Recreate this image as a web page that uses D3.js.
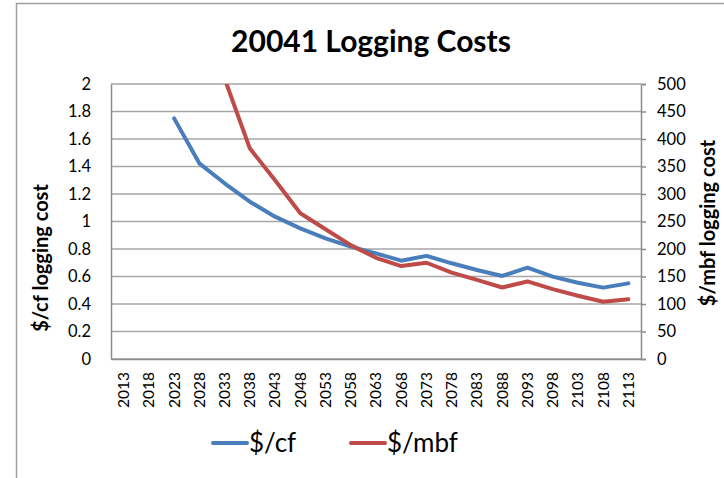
<!DOCTYPE html>
<html><head><meta charset="utf-8">
<script src="https://cdn.jsdelivr.net/npm/d3@7"></script>
<style>body{margin:0;background:#fff}svg{display:block}text{font-family:Lato,"Open Sans",sans-serif}</style>
</head><body>
<svg id="c" width="724" height="478"></svg>
<script>
const years = ["2013","2018","2023","2028","2033","2038","2043","2048","2053","2058","2063","2068","2073","2078","2083","2088","2093","2098","2103","2108","2113"];
const cfCost = [null,null,1.75,1.423,1.278,1.144,1.035,0.95,0.878,0.817,0.768,0.715,0.75,0.696,0.647,0.604,0.664,0.599,0.555,0.519,0.55];
const mbfCost = [null,null,null,null,510,383,325,265,236,207,184,169,175,157,144,130,141,127,115,104,108.5];
const leftTicks = [0,0.2,0.4,0.6,0.8,1,1.2,1.4,1.6,1.8,2];
const rightTicks = [0,50,100,150,200,250,300,350,400,450,500];

const svg = d3.select("#c");
const L=111,R=641,T=84,B=359;
// outer chart border
svg.append("rect").attr("x",16.5).attr("y",3.5).attr("width",720).attr("height",490)
  .attr("fill","none").attr("stroke","#a0a0a0").attr("stroke-width",1.5);

const x = d3.scaleBand().domain(years).range([L,R]);
const yL = d3.scaleLinear().domain([0,2]).range([B,T]);
const yR = d3.scaleLinear().domain([0,500]).range([B,T]);

// gridlines
svg.append("g").selectAll("line").data(leftTicks).join("line")
  .attr("x1",L).attr("x2",R).attr("y1",d=>yL(d)).attr("y2",d=>yL(d))
  .attr("stroke","#a6a6a6").attr("stroke-width",1.5);

// left axis
const gl = svg.append("g").attr("transform",`translate(${L},0)`)
  .call(d3.axisLeft(yL).tickValues(leftTicks).tickSize(0).tickPadding(20).tickFormat(d3.format("")));
gl.select(".domain").attr("stroke","#8c8c8c").attr("stroke-width",1.5);
gl.selectAll("text").attr("font-size",16.5).attr("fill","#000");

// right axis
const gr = svg.append("g").attr("transform",`translate(${R},0)`)
  .call(d3.axisRight(yR).tickValues(rightTicks).tickSize(5).tickPadding(11));
gr.select(".domain").attr("stroke","#8c8c8c").attr("stroke-width",1.5);
gr.selectAll("line").attr("stroke","#8c8c8c").attr("stroke-width",1.5);
gr.selectAll("text").attr("font-size",16.5).attr("fill","#000");

// bottom axis
const gb = svg.append("g").attr("transform",`translate(0,${B})`)
  .call(d3.axisBottom(x).tickSize(0).tickPadding(0));
gb.select(".domain").attr("stroke","#8c8c8c").attr("stroke-width",1.5);
gb.selectAll("text").attr("font-size",15.5).attr("fill","#000")
  .attr("transform","rotate(-90)").attr("text-anchor","end")
  .attr("x",-13).attr("y",0).attr("dy","0.35em");

// clip
svg.append("clipPath").attr("id","pc").append("rect").attr("x",L).attr("y",T).attr("width",R-L).attr("height",B-T);

const cx = d=>x(d)+x.bandwidth()/2;
const lineCf = d3.line().defined(d=>d[1]!=null).x(d=>cx(d[0])).y(d=>yL(d[1]));
const lineMbf = d3.line().defined(d=>d[1]!=null).x(d=>cx(d[0])).y(d=>yR(d[1]));
svg.append("path").datum(years.map((y,i)=>[y,cfCost[i]])).attr("d",lineCf)
  .attr("fill","none").attr("stroke","#4a7ebb").attr("stroke-width",4).attr("stroke-linejoin","round").attr("stroke-linecap","round")
  .attr("clip-path","url(#pc)");
svg.append("path").datum(years.map((y,i)=>[y,mbfCost[i]])).attr("d",lineMbf)
  .attr("fill","none").attr("stroke","#be4b48").attr("stroke-width",4).attr("stroke-linejoin","round").attr("stroke-linecap","round")
  .attr("clip-path","url(#pc)");

// title
svg.append("text").attr("x",371).attr("y",52).attr("text-anchor","middle")
  .attr("font-size",30).attr("font-weight","bold").text("20041 Logging Costs");
// axis titles
svg.append("text").attr("transform","translate(48,258) rotate(-90)").attr("text-anchor","middle")
  .attr("font-size",20).attr("font-weight","bold").text("$/cf logging cost");
svg.append("text").attr("transform","translate(715,223) rotate(-90)").attr("text-anchor","middle")
  .attr("font-size",20).attr("font-weight","bold").text("$/mbf logging cost");

// legend
const leg = [{n:"$/cf",c:"#4a7ebb",x:213},{n:"$/mbf",c:"#be4b48",x:351}];
leg.forEach(l=>{
  svg.append("line").attr("x1",l.x).attr("x2",l.x+34).attr("y1",443).attr("y2",443)
    .attr("stroke",l.c).attr("stroke-width",4).attr("stroke-linecap","round");
  svg.append("text").attr("x",l.x+36).attr("y",452).attr("font-size",26).text(l.n);
});
</script>
</body></html>
